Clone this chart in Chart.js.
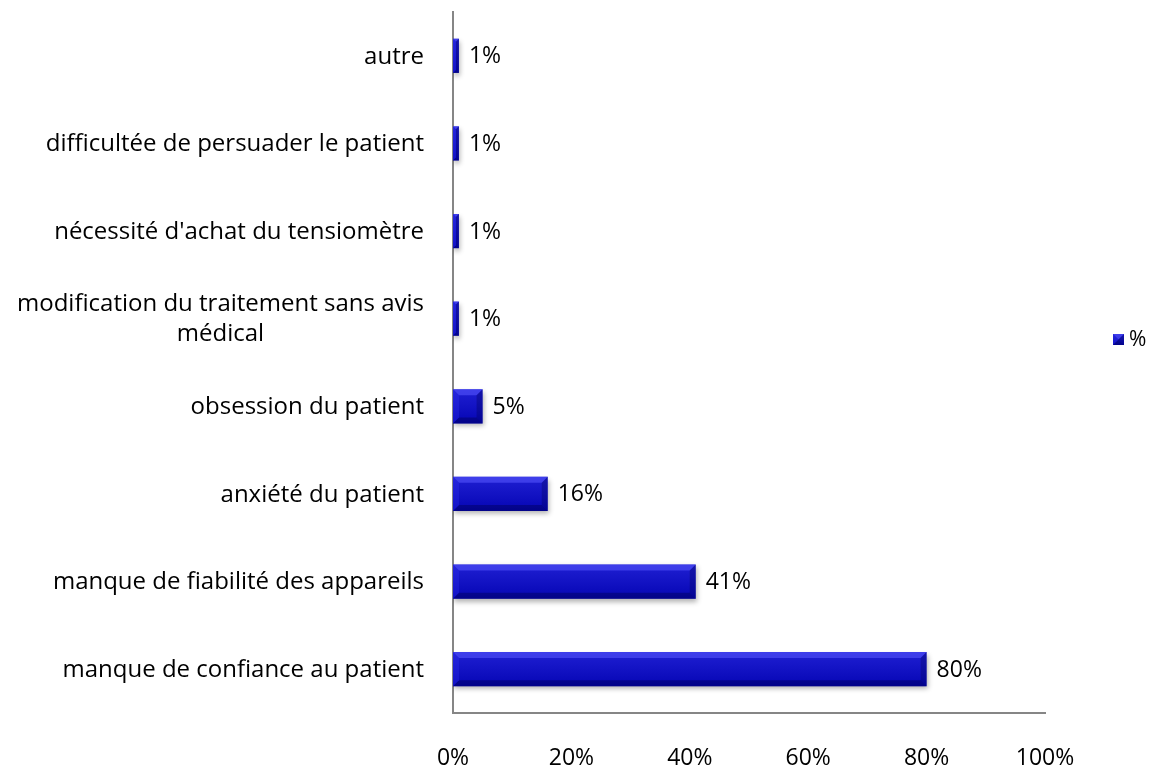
<!DOCTYPE html>
<html>
<head>
<meta charset="utf-8">
<script src="https://cdn.jsdelivr.net/npm/chart.js@4"></script>
<style>
  html, body { margin: 0; padding: 0; background: #fff; }
  #wrap { width: 1163px; height: 767px; }
</style>
</head>
<body>
<div id="wrap"><canvas id="chart"></canvas></div>
<script>
const categories = [
  "autre",
  "difficultée de persuader le patient",
  "nécessité d'achat du tensiomètre",
  ["modification du traitement sans avis", "médical"],
  "obsession du patient",
  "anxiété du patient",
  "manque de fiabilité des appareils",
  "manque de confiance au patient"
];
const values = [1, 1, 1, 1, 5, 16, 41, 80];
const seriesName = "%";
const xTicks = [0, 20, 40, 60, 80, 100];

const FONT = "'Open Sans', Lato, sans-serif";
const BLUE = "#0505cc";

function poly(c, pts, fill) {
  c.beginPath();
  c.moveTo(pts[0][0], pts[0][1]);
  for (let i = 1; i < pts.length; i++) c.lineTo(pts[i][0], pts[i][1]);
  c.closePath();
  c.fillStyle = fill;
  c.fill();
}

// excel-like bevel on top of a flat bar
function bevel(c, l, t, r, b) {
  const d = Math.min(6, (r - l) / 2, (b - t) / 2);
  const g = c.createLinearGradient(0, t, 0, b);
  g.addColorStop(0, "rgba(255,255,255,0.10)");
  g.addColorStop(1, "rgba(0,0,0,0.12)");
  c.fillStyle = g;
  c.fillRect(l, t, r - l, b - t);
  poly(c, [[l, t], [r, t], [r - d, t + d], [l + d, t + d]], "rgba(90,90,255,0.55)");
  poly(c, [[l, b], [r, b], [r - d, b - d], [l + d, b - d]], "rgba(0,0,60,0.35)");
  poly(c, [[l, t], [l + d, t + d], [l + d, b - d], [l, b]], "rgba(60,60,255,0.25)");
  poly(c, [[r, t], [r - d, t + d], [r - d, b - d], [r, b]], "rgba(0,0,80,0.3)");
}

const barLook = {
  id: "barLook",
  beforeDatasetsDraw(chart) {
    const c = chart.ctx;
    c.save();
    c.shadowColor = "rgba(0,0,0,0.3)";
    c.shadowBlur = 5;
    c.shadowOffsetX = 1;
    c.shadowOffsetY = 3;
  },
  afterDatasetsDraw(chart) {
    const c = chart.ctx;
    c.restore();
    const meta = chart.getDatasetMeta(0);
    meta.data.forEach((bar, i) => {
      const p = bar.getProps(["x", "y", "base", "height"], true);
      const t = p.y - p.height / 2, b = p.y + p.height / 2;
      bevel(c, p.base, t, p.x, b);
      c.fillStyle = "#000";
      c.font = "23px " + FONT;
      c.textAlign = "left";
      c.textBaseline = "middle";
      c.fillText(values[i] + "%", p.x + 10, p.y + 1);
    });
  },
  afterDraw(chart) {
    const c = chart.ctx;
    const yScale = chart.scales.y;
    const right = chart.chartArea.left - 29;
    c.save();
    c.fillStyle = "#000";
    c.font = "24px " + FONT;
    c.textBaseline = "middle";
    categories.forEach((lab, i) => {
      const yc = yScale.getPixelForValue(i);
      if (Array.isArray(lab)) {
        const w = c.measureText(lab[0]).width;
        const lh = 30;
        c.textAlign = "center";
        lab.forEach((line, k) => {
          c.fillText(line, right - w / 2, yc + (k - (lab.length - 1) / 2) * lh);
        });
      } else {
        c.textAlign = "right";
        c.fillText(lab, right, yc + 1);
      }
    });
    // legend
    const lx = 1113, ly = 334;
    c.fillStyle = BLUE;
    c.fillRect(lx, ly, 11, 11);
    bevel(c, lx, ly, lx + 11, ly + 11);
    c.fillStyle = "#000";
    c.font = "21px " + FONT;
    c.textAlign = "left";
    c.fillText(seriesName, lx + 16, ly + 6);
    c.restore();
  }
};

new Chart(document.getElementById("chart"), {
  type: "bar",
  data: {
    labels: categories,
    datasets: [{
      label: seriesName,
      data: values,
      backgroundColor: BLUE,
      borderWidth: 0,
      barPercentage: 0.39,
      categoryPercentage: 1
    }]
  },
  options: {
    indexAxis: "y",
    responsive: true,
    maintainAspectRatio: false,
    animation: false,
    devicePixelRatio: 1,
    layout: { padding: { top: 12, right: 118, left: 0, bottom: 0 } },
    plugins: {
      legend: { display: false },
      tooltip: { enabled: false }
    },
    scales: {
      x: {
        min: 0,
        max: 100,
        afterBuildTicks(s) { s.ticks = xTicks.map(v => ({ value: v })); },
        afterFit(s) { s.height = 54; },
        grid: { display: false, drawTicks: false },
        border: { display: true, color: "#868686", width: 2 },
        ticks: {
          padding: 34,
          color: "#000",
          font: { family: FONT, size: 23, lineHeight: 1 },
          maxRotation: 0,
          callback: v => v + "%"
        }
      },
      y: {
        afterFit(s) { s.width = 453; },
        grid: { display: false, drawTicks: false },
        border: { display: true, color: "#868686", width: 2 },
        ticks: { display: false }
      }
    }
  },
  plugins: [barLook]
});
</script>
</body>
</html>
